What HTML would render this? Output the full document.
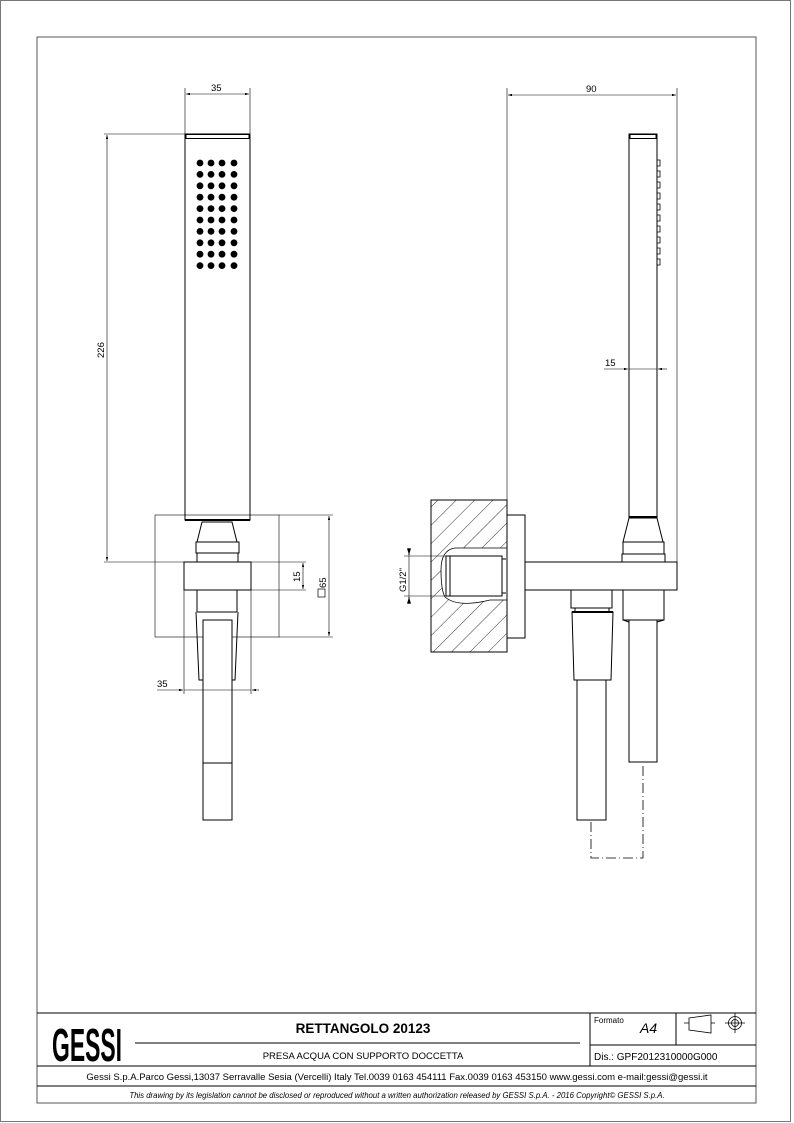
<!DOCTYPE html>
<html><head><meta charset="utf-8"><style>
html,body{margin:0;padding:0;background:#fff}
svg{display:block}
text{font-family:"Liberation Sans",Arial,sans-serif;fill:#000}
</style></head><body>
<svg width="794" height="1123" viewBox="0 0 794 1123" xmlns="http://www.w3.org/2000/svg">
<defs>
<marker id="a" viewBox="0 0 10 6" refX="10" refY="3" markerWidth="8" markerHeight="4" orient="auto-start-reverse"><path d="M0,0L10,3L0,6z" fill="#000"/></marker>
<pattern id="h" patternUnits="userSpaceOnUse" width="13" height="13" patternTransform="rotate(45)"><line x1="0" y1="0" x2="0" y2="13" stroke="#000" stroke-width="0.8"/></pattern>
<clipPath id="cv"><path d="M431,500H507V548H455Q441,550 441,570Q441,590 445,597Q458,608 490,600H507V652H431Z"/></clipPath>
</defs>
<rect x="0.5" y="0.5" width="790" height="1121" fill="none" stroke="#777" stroke-width="1"/>
<rect x="37" y="37" width="719" height="1066" fill="none" stroke="#555" stroke-width="1"/>

<g stroke="#000" fill="none" stroke-width="1">
<line x1="185" y1="88" x2="185" y2="134" stroke-width="0.6"/>
<line x1="250" y1="88" x2="250" y2="134" stroke-width="0.6"/>
<line x1="186" y1="94" x2="249" y2="94" stroke-width="0.6" marker-start="url(#a)" marker-end="url(#a)"/>
<line x1="104" y1="134" x2="185" y2="134" stroke-width="0.6"/>
<line x1="104" y1="562" x2="184" y2="562" stroke-width="0.6"/>
<line x1="107" y1="135" x2="107" y2="561" stroke-width="0.6" marker-start="url(#a)" marker-end="url(#a)"/>
<rect x="185" y="134" width="65" height="386"/>
<rect x="186" y="134.5" width="63" height="4"/>
<line x1="185" y1="520" x2="250" y2="520" stroke-width="2"/>
<rect x="155" y="515" width="124" height="122" stroke-width="0.6"/>
<line x1="279" y1="515" x2="333" y2="515" stroke-width="0.6"/>
<line x1="279" y1="637" x2="333" y2="637" stroke-width="0.6"/>
<line x1="329" y1="516" x2="329" y2="636" stroke-width="0.6" marker-start="url(#a)" marker-end="url(#a)"/>
<line x1="251" y1="562" x2="306" y2="562" stroke-width="0.6"/>
<line x1="251" y1="590" x2="306" y2="590" stroke-width="0.6"/>
<line x1="303" y1="563" x2="303" y2="589" stroke-width="0.6" marker-start="url(#a)" marker-end="url(#a)"/>
<path d="M202,522H232L237,542H197Z" fill="#fff"/>
<rect x="196" y="542" width="43" height="11" fill="#fff"/>
<rect x="197" y="553" width="41" height="9" fill="#fff"/>
<rect x="184" y="562" width="67" height="28" fill="#fff"/>
<path d="M197,590V612M237,590V612M197,612H237"/>
<path d="M196,612L199,680H203M238,612L235,680H232"/>
<rect x="203" y="620" width="29" height="200" fill="#fff"/>
<line x1="203" y1="763" x2="232" y2="763"/>
<line x1="184" y1="590" x2="184" y2="694" stroke-width="0.6"/>
<line x1="251" y1="590" x2="251" y2="694" stroke-width="0.6"/>
<line x1="157" y1="690" x2="183" y2="690" stroke-width="0.6" marker-end="url(#a)"/>
<line x1="259" y1="690" x2="252" y2="690" stroke-width="0.6" marker-end="url(#a)"/>
<line x1="184" y1="690" x2="251" y2="690" stroke-width="0.6"/>

<line x1="507" y1="88" x2="507" y2="500" stroke-width="0.6"/>
<line x1="677" y1="88" x2="677" y2="562" stroke-width="0.6"/>
<line x1="508" y1="95" x2="676" y2="95" stroke-width="0.6" marker-start="url(#a)" marker-end="url(#a)"/>
<rect x="431" y="500" width="76" height="152"/>
<rect x="431" y="500" width="76" height="152" fill="url(#h)" stroke="none" clip-path="url(#cv)"/>
<path d="M507,548H455Q441,550 441,570Q441,590 445,597Q458,608 490,600H507" stroke-width="0.8"/>
<rect x="446" y="556" width="56" height="40"/>
<line x1="450" y1="556" x2="450" y2="596"/>
<path d="M502,559H506M502,593H506"/>
<rect x="507" y="515" width="18" height="123"/>
<rect x="525" y="562" width="152" height="28"/>
<line x1="404" y1="556" x2="446" y2="556" stroke-width="0.6"/>
<line x1="404" y1="596" x2="446" y2="596" stroke-width="0.6"/>
<line x1="409" y1="548" x2="409" y2="604" stroke-width="0.6"/>
<line x1="409" y1="549" x2="409" y2="555" stroke-width="1" marker-end="url(#a)"/>
<line x1="409" y1="603" x2="409" y2="597" stroke-width="1" marker-end="url(#a)"/>
<rect x="629" y="134" width="28" height="384"/>
<rect x="630" y="134.5" width="26" height="4"/>
<g stroke-width="0.8">
<path d="M657,160h3v6h-3M657,171h3v6h-3M657,182h3v6h-3M657,193h3v6h-3M657,204h3v6h-3M657,215h3v6h-3M657,226h3v6h-3M657,237h3v6h-3M657,248h3v6h-3M657,259h3v6h-3"/>
</g>
<line x1="629" y1="517" x2="657" y2="517" stroke-width="2"/>
<path d="M629,518H657L663,542H623Z"/>
<rect x="623" y="542" width="41" height="12"/>
<rect x="622" y="554" width="43" height="8"/>
<path d="M623,590V620L629,622M664,590V620L657,622M623,620H664"/>
<rect x="629" y="620" width="28" height="142"/>
<line x1="604" y1="369" x2="628" y2="369" stroke-width="0.6" marker-end="url(#a)"/>
<line x1="667" y1="369" x2="658" y2="369" stroke-width="0.6" marker-end="url(#a)"/>
<line x1="629" y1="369" x2="657" y2="369" stroke-width="0.6"/>
<rect x="571" y="590" width="41" height="18"/>
<rect x="575" y="608" width="34" height="4"/>
<line x1="572" y1="612" x2="613" y2="612" stroke-width="2"/>
<path d="M572,612H613L611,680H574Z"/>
<rect x="577" y="680" width="29" height="140"/>
<path d="M591,822V858H643V766" stroke-width="0.8" stroke-dasharray="10,3,1,3"/>
</g>

<g font-size="9.5">
<text x="211" y="91">35</text>
<text x="586" y="92">90</text>
<text x="157" y="687">35</text>
<text x="605" y="366">15</text>
<text transform="translate(104,358) rotate(-90)">226</text>
<text transform="translate(300,582) rotate(-90)">15</text>
<text transform="translate(326,588) rotate(-90)">65</text>
<text transform="translate(406,592) rotate(-90)">G1/2"</text>
</g>
<rect x="318" y="589" width="7" height="8" fill="none" stroke="#000" stroke-width="0.7"/>

<g fill="#000">
<g id="r">
<circle cx="200" cy="163" r="3.4"/><circle cx="211" cy="163" r="3.4"/><circle cx="222" cy="163" r="3.4"/><circle cx="234" cy="163" r="3.4"/>
</g>
<use href="#r" y="11.4"/><use href="#r" y="22.8"/><use href="#r" y="34.2"/><use href="#r" y="45.6"/><use href="#r" y="57"/><use href="#r" y="68.4"/><use href="#r" y="79.8"/><use href="#r" y="91.2"/><use href="#r" y="102.6"/>
</g>

<g stroke="#000" fill="none" stroke-width="1">
<line x1="37" y1="1013" x2="756" y2="1013"/>
<line x1="37" y1="1066" x2="756" y2="1066"/>
<line x1="37" y1="1086" x2="756" y2="1086"/>
<line x1="590" y1="1013" x2="590" y2="1066"/>
<line x1="676" y1="1013" x2="676" y2="1045"/>
<line x1="590" y1="1045" x2="756" y2="1045"/>
<line x1="135" y1="1043" x2="580" y2="1043"/>
<path d="M684,1023H689M689,1018L711,1015V1033L689,1030ZM711,1023H715" stroke-width="0.8"/>
<circle cx="735" cy="1023" r="6.5" stroke-width="0.8"/><circle cx="735" cy="1023" r="3.5" stroke-width="0.8"/>
<path d="M735,1013V1033M725,1023H745" stroke-width="0.8"/>
</g>
<text transform="translate(52,1061) scale(1,1.55)" font-size="30" font-weight="bold" textLength="70" lengthAdjust="spacingAndGlyphs">GESSI</text>
<text x="363" y="1033" font-size="13.5" font-weight="bold" text-anchor="middle">RETTANGOLO 20123</text>
<text x="363" y="1059" font-size="9.5" text-anchor="middle">PRESA ACQUA CON SUPPORTO DOCCETTA</text>
<text x="594" y="1023" font-size="8">Formato</text>
<text x="640" y="1033" font-size="14" font-style="italic">A4</text>
<text x="594" y="1060" font-size="10">Dis.: GPF2012310000G000</text>
<text x="397" y="1080" font-size="9.5" text-anchor="middle">Gessi S.p.A.Parco Gessi,13037 Serravalle Sesia (Vercelli) Italy Tel.0039 0163 454111 Fax.0039 0163 453150 www.gessi.com e-mail:gessi@gessi.it</text>
<text x="397" y="1098" font-size="7.8" font-style="italic" text-anchor="middle">This drawing by its legislation cannot be disclosed or reproduced without a written authorization released by GESSI S.p.A. - 2016 Copyright© GESSI S.p.A.</text>
</svg>
</body></html>
